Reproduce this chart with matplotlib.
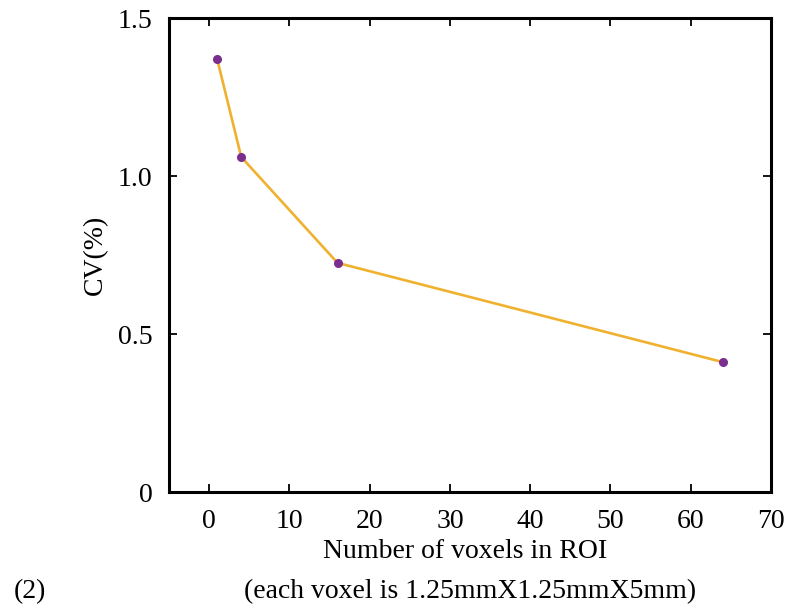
import matplotlib
matplotlib.use("Agg")
import matplotlib.pyplot as plt

voxels = [1, 4, 16, 64]
cv = [1.37, 1.06, 0.725, 0.411]
xticks = [0, 10, 20, 30, 40, 50, 60, 70]
yticks = [0, 0.5, 1.0, 1.5]
ytick_labels = ["0", "0.5", "1.0", "1.5"]

plt.rcParams['font.family'] = ['Liberation Serif', 'DejaVu Serif']

fig = plt.figure(figsize=(7.85, 6.07), dpi=100)
ax = fig.add_axes([169/785, 1-492/607, 602/785, 474/607])
ax.plot(voxels, cv, color='#F0B12E', lw=1.9, zorder=2)
ax.plot(voxels, cv, 'o', color='#7A2E8E', ms=5.5, mec='#7A2E8E', zorder=3)

ax.set_xlim(-5, 70)
ax.set_ylim(0, 1.5)
ax.set_xticks(xticks)
ax.set_yticks(yticks)
ax.set_yticklabels(ytick_labels)
ax.tick_params(direction='in', top=True, right=True, length=6, width=1.3,
               labelsize=20, labeltop=False, labelright=False)
ax.tick_params(axis='x', pad=12)
ax.tick_params(axis='y', pad=12)
for s in ax.spines.values():
    s.set_linewidth(2.2)

ax.set_ylabel('CV(%)', fontsize=20, labelpad=7)
fig.text((169+771)/2/785 - 5/785, 1-552/607, 'Number of voxels in ROI', ha='center', va='center', fontsize=20)
fig.text((169+771)/2/785, 1-592/607, '(each voxel is 1.25mmX1.25mmX5mm)', ha='center', va='center', fontsize=20)
fig.text(30/785, 1-592/607, '(2)', ha='center', va='center', fontsize=20)

fig.savefig('out.png', dpi=100)
